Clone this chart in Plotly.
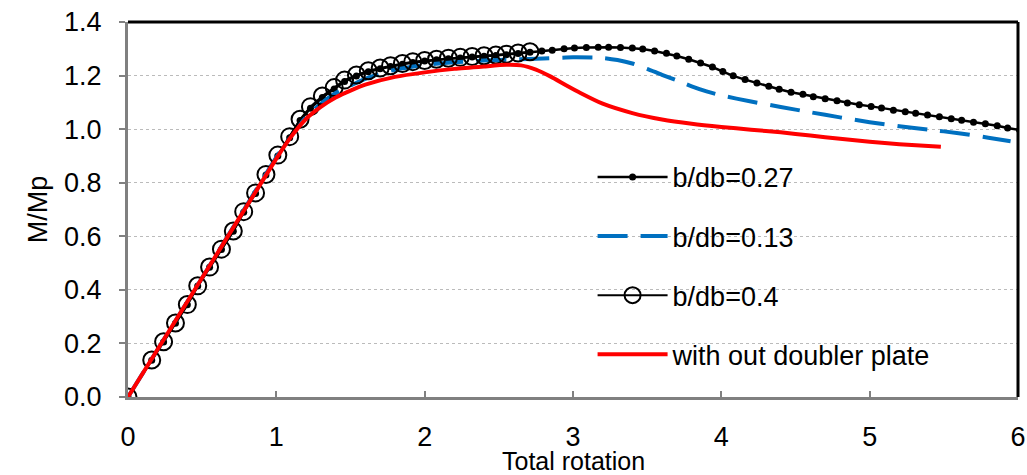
import plotly.graph_objects as go

# b/db = 0.4 (open circles)
x_04 = [0, 0.16, 0.24, 0.32, 0.40, 0.47, 0.55, 0.63, 0.71, 0.78, 0.86, 0.93, 1.01, 1.09, 1.16, 1.23,
        1.31, 1.39, 1.46, 1.54, 1.62, 1.70, 1.77, 1.85, 1.92, 2.00, 2.08, 2.16, 2.24, 2.32, 2.40,
        2.48, 2.55, 2.63, 2.71]
y_04 = [0, 0.138, 0.206, 0.276, 0.345, 0.415, 0.485, 0.552, 0.620, 0.692, 0.762, 0.831, 0.903, 0.972,
        1.037, 1.084, 1.124, 1.155, 1.183, 1.202, 1.218, 1.228, 1.237, 1.245, 1.252, 1.256, 1.261,
        1.265, 1.268, 1.271, 1.274, 1.277, 1.280, 1.284, 1.289]

# b/db = 0.27 (small dots)
x_027 = [0, 0.16, 0.24, 0.32, 0.40, 0.47, 0.55, 0.63, 0.71, 0.78, 0.86, 0.93, 1.01, 1.09, 1.16, 1.23,
         1.31, 1.39, 1.46, 1.54, 1.62, 1.70, 1.77, 1.85, 1.92, 2.00, 2.08, 2.16, 2.24, 2.32, 2.40,
         2.48, 2.55, 2.63, 2.71, 2.79, 2.86, 2.94, 3.01, 3.09, 3.17, 3.24, 3.32, 3.40, 3.47, 3.55,
         3.63, 3.70, 3.78, 3.86, 3.94, 4.01, 4.08, 4.16, 4.24, 4.32, 4.39, 4.47, 4.55, 4.62, 4.70,
         4.78, 4.85, 4.93, 5.01, 5.08, 5.16, 5.24, 5.31, 5.39, 5.47, 5.55, 5.62, 5.70, 5.78, 5.86,
         5.93, 6.01]
y_027 = [0, 0.137, 0.205, 0.275, 0.344, 0.414, 0.484, 0.551, 0.619, 0.690, 0.760, 0.829, 0.900, 0.968,
         1.032, 1.078, 1.118, 1.150, 1.178, 1.198, 1.214, 1.225, 1.234, 1.242, 1.249, 1.254, 1.259,
         1.263, 1.266, 1.269, 1.272, 1.275, 1.278, 1.282, 1.287, 1.292, 1.295, 1.300, 1.303, 1.305,
         1.306, 1.306, 1.305, 1.303, 1.299, 1.292, 1.283, 1.273, 1.261, 1.247, 1.232, 1.215, 1.199,
         1.185, 1.172, 1.160, 1.149, 1.138, 1.130, 1.121, 1.113, 1.106, 1.098, 1.091, 1.085, 1.079,
         1.071, 1.065, 1.059, 1.053, 1.046, 1.039, 1.033, 1.026, 1.020, 1.013, 1.004, 0.997]

# b/db = 0.13 (blue dashed)
x_013 = [0, 0.5, 1.0, 1.1, 1.2, 1.3, 1.4, 1.6, 1.8, 2.0, 2.2, 2.4, 2.6, 2.8, 3.0, 3.2, 3.3, 3.4,
         3.5, 3.6, 3.7, 3.8, 3.9, 4.0, 4.2, 4.4, 4.6, 4.8, 5.0, 5.2, 5.4, 5.6, 5.8, 5.95]
y_013 = [0, 0.445, 0.895, 0.975, 1.045, 1.095, 1.135, 1.188, 1.222, 1.240, 1.250, 1.256, 1.260, 1.264,
         1.268, 1.266, 1.258, 1.245, 1.225, 1.203, 1.182, 1.160, 1.141, 1.126, 1.103, 1.083, 1.063,
         1.044, 1.026, 1.011, 0.998, 0.985, 0.968, 0.955]

# without doubler plate (red)
x_red = [0, 0.5, 1.0, 1.1, 1.2, 1.3, 1.4, 1.5, 1.6, 1.8, 2.0, 2.2, 2.4, 2.55, 2.65, 2.75, 2.85,
         2.95, 3.05, 3.2, 3.4, 3.6, 3.8, 4.0, 4.2, 4.4, 4.6, 4.8, 5.0, 5.2, 5.48]
y_red = [0, 0.445, 0.89, 0.972, 1.038, 1.083, 1.118, 1.144, 1.166, 1.195, 1.212, 1.225, 1.234, 1.240,
         1.238, 1.222, 1.196, 1.165, 1.135, 1.095, 1.060, 1.036, 1.020, 1.008, 0.998, 0.988, 0.976,
         0.964, 0.953, 0.944, 0.934]

names = ["b/db=0.27", "b/db=0.13", "b/db=0.4", "with out doubler plate"]
x_ticks = [0, 1, 2, 3, 4, 5, 6]
y_ticks = [0, 0.2, 0.4, 0.6, 0.8, 1.0, 1.2, 1.4]

FONT = "Liberation Sans, Arial, sans-serif"

fig = go.Figure()
fig.add_trace(go.Scatter(x=x_027, y=y_027, name=names[0], mode="lines+markers", legendgroup="a",
                         line=dict(color="black", width=2.5),
                         marker=dict(symbol="circle", size=7, color="black")))
fig.add_trace(go.Scatter(x=x_013, y=y_013, name=names[1], mode="lines", legendgroup="b",
                         line=dict(color="#0070C0", width=4, dash="30px,13px", shape="spline", smoothing=0.6)))
fig.add_trace(go.Scatter(x=x_04, y=y_04, name=names[2], mode="lines+markers", legendgroup="c",
                         line=dict(color="black", width=2),
                         marker=dict(symbol="circle-open", size=17, color="black", line=dict(width=2))))
fig.add_trace(go.Scatter(x=x_red, y=y_red, name=names[3], mode="lines", legendgroup="d",
                         line=dict(color="#FF0000", width=4, shape="spline", smoothing=0.6)))

fig.update_layout(
    width=1027, height=475,
    margin=dict(l=128, r=9, t=22, b=78, autoexpand=False),
    paper_bgcolor="white", plot_bgcolor="white",
    font=dict(family=FONT, color="black", size=27),
    showlegend=True,
    legend=dict(x=0.522, y=0.651, xanchor="left", yanchor="top", bgcolor="rgba(0,0,0,0)",
                font=dict(size=27, family=FONT), tracegroupgap=21, itemwidth=70),
    xaxis=dict(range=[0, 6], tickvals=x_ticks, ticktext=[str(v) for v in x_ticks],
               showgrid=False, zeroline=False, showline=True, linecolor="#808080", linewidth=3,
               ticks="inside", ticklen=6, tickcolor="#808080", tickwidth=2, automargin=False,
               tickfont=dict(size=27), ticklabelstandoff=14),
    yaxis=dict(range=[0, 1.4], tickvals=y_ticks, ticktext=[f"{v:.1f}" for v in y_ticks],
               showgrid=True, gridcolor="#BBBBBB", gridwidth=1, griddash="dot",
               zeroline=False, showline=True, linecolor="#808080", linewidth=3,
               ticks="outside", ticklen=6, tickcolor="#808080", tickwidth=2, automargin=False,
               tickfont=dict(size=27), ticklabelstandoff=12,
               title=dict(text="M/Mp", font=dict(size=27), standoff=9)),
)
# top and right black border of the plot area
fig.add_shape(type="line", xref="paper", yref="paper", x0=0, x1=1, y0=1, y1=1,
              line=dict(color="black", width=3))
fig.add_shape(type="line", xref="paper", yref="paper", x0=1, x1=1, y0=0, y1=1,
              line=dict(color="black", width=3))
fig.add_annotation(text="Total rotation", xref="paper", yref="paper", x=0.5, y=-0.171,
                   showarrow=False, xanchor="center", yanchor="middle", font=dict(size=25))

fig.write_html("out.html", config={"displayModeBar": False},
               post_script="document.body.style.margin='0';")
